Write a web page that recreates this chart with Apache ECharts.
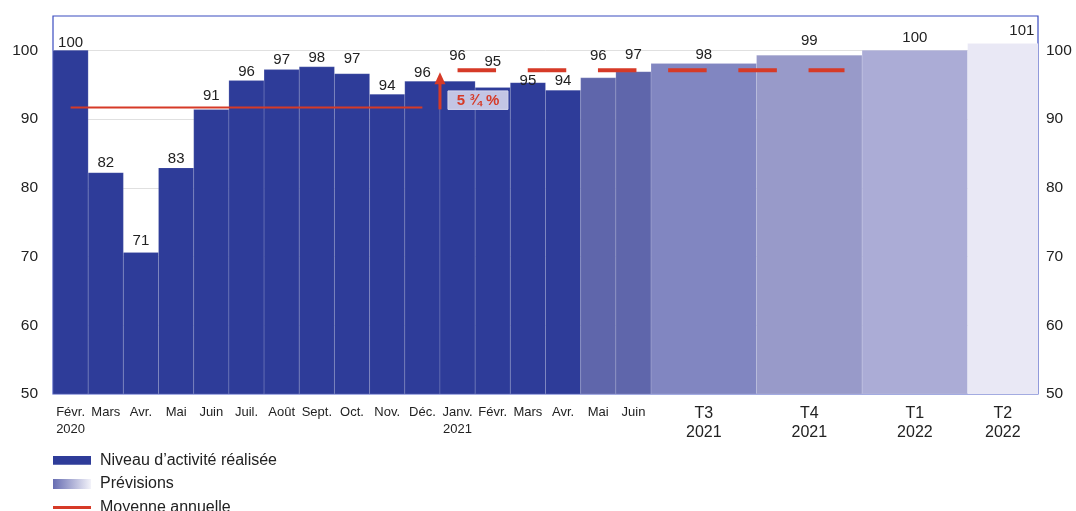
<!DOCTYPE html>
<html><head><meta charset="utf-8">
<script src="https://cdn.jsdelivr.net/npm/echarts@6/dist/echarts.min.js"></script>
<style>html,body{margin:0;padding:0;background:#fff}#c{width:1076px;height:511px}</style>
</head><body><div id="c"></div>
<script>
// ---- data ----
const periods = ['Févr.\n2020','Mars','Avr.','Mai','Juin','Juil.','Août','Sept.','Oct.','Nov.','Déc.','Janv.\n2021','Févr.','Mars','Avr.','Mai','Juin','T3\n2021','T4\n2021','T1\n2022','T2\n2022'];
const monthsPerPeriod = [1,1,1,1,1,1,1,1,1,1,1,1,1,1,1,1,1,3,3,3,2];
const activity = [100,82.2,70.6,82.9,91.4,95.6,97.2,97.6,96.6,93.6,95.5,95.5,94.6,95.3,94.2,96.0,96.9,98.1,99.3,100,101.0];
const realisedCount = 15;               // Févr. 2020 .. Avr. 2021 realised, then forecasts
const avg2020 = 91.7;                   // annual average 2020
const avg2021 = 97.1;                   // annual average 2021
const avg2020Months = [0, 10];          // Févr. 2020 .. Déc. 2020 (month index)
const avg2021Months = [11, 22];         // Janv. 2021 .. Déc. 2021 (month index)
const growthLabel = '5 ¾ %';
const growthPeriodIndex = 11;           // arrow at start of Janv. 2021
const yTicks = [50,60,70,80,90,100];
const legendNames = ['Niveau d’activité réalisée','Prévisions','Moyenne annuelle'];

// ---- styles ----
const FONT = '"Liberation Sans", Arial, Helvetica, sans-serif';
const realisedColor = '#2e3c99';
const forecastColors = ['#5f66ab','#5f66ab','#8186c1','#989ac9','#abacd6','#e9e8f5'];
const red = '#d63a27';
const labelDy = [-8,-10,-11.5,-9.5,-13.5,-8.5,-9.5,-9,-15,-8.5,-8,-25,-25.5,-1.5,-9,-21.5,-16.5,-9,-14,-13,-12.5];
const labelDx = [0,0,0,0,0,0,0,0,0,0,0,0,0,0,0,0,0,0,0,0,19];
const legendTops = [452.3, 475.9, 499.5];

// ---- derived ----
const starts = []; let acc = 0;
monthsPerPeriod.forEach(d => { starts.push(acc); acc += d; });
const totalMonths = acc;
const centers = starts.map((s, i) => s + monthsPerPeriod[i] / 2);
const yMin = yTicks[0];
const barData = activity.map((v, i) => [starts[i], starts[i] + monthsPerPeriod[i], v, i]);

function renderBar(params, api) {
  const s = api.value(0), e = api.value(1), v = api.value(2), i = api.value(3);
  const tl = api.coord([s, v]);
  const br = api.coord([e, yMin]);
  const color = i < realisedCount ? realisedColor : forecastColors[i - realisedCount];
  const cx = (tl[0] + br[0]) / 2;
  return { type: 'group', children: [
    { type: 'rect', shape: { x: tl[0], y: tl[1], width: br[0] - tl[0], height: br[1] - tl[1] },
      style: { fill: color, stroke: 'rgba(255,255,255,0.14)', lineWidth: 1 } },
    { type: 'text', x: cx + labelDx[i], y: tl[1] + labelDy[i],
      style: { text: String(Math.round(v)), fill: '#222', font: '15px ' + FONT, align: 'center', verticalAlign: 'middle' } }
  ]};
}

function renderArrow(params, api) {
  const x = api.value(0);
  const base = api.coord([x, api.value(1)]);
  const tip = api.coord([x, api.value(2)]);
  const ax = base[0], by = base[1] + 2, ty = tip[1] + 2;
  const headH = 12, headW = 11;
  const boxW = 60, boxH = 18.5;
  return { type: 'group', children: [
    { type: 'line', shape: { x1: ax, y1: by, x2: ax, y2: ty + headH - 1 }, style: { stroke: red, lineWidth: 3 } },
    { type: 'polygon', shape: { points: [[ax, ty], [ax - headW / 2, ty + headH], [ax + headW / 2, ty + headH]] }, style: { fill: red } },
    { type: 'rect', shape: { x: ax + 8, y: by - boxH, width: boxW, height: boxH }, style: { fill: '#c3c5e4', stroke: '#d6d7ee', lineWidth: 1 } },
    { type: 'text', x: ax + 8 + boxW / 2, y: by - boxH / 2 + 0.5,
      style: { text: growthLabel, fill: red, font: 'bold 15px ' + FONT, align: 'center', verticalAlign: 'middle' } }
  ]};
}

const richStyles = {
  m: { fontSize: 13, lineHeight: 17, color: '#222', fontFamily: FONT },
  q: { fontSize: 16, lineHeight: 19, color: '#222', fontFamily: FONT }
};

const legendGradient = new echarts.graphic.LinearGradient(0, 0, 1, 0, [
  { offset: 0, color: '#676db2' }, { offset: 0.9, color: '#f2f2f9' }, { offset: 1, color: '#ffffff' }
]);
const legendIcons = [
  { icon: 'path://M0,0 M42,10 M0,0.8 h38 v8.6 h-38 z', itemStyle: { color: realisedColor } },
  { icon: 'path://M0,0 M42,10 M0,0 h38 v10 h-38 z', itemStyle: { color: legendGradient } },
  { icon: 'path://M0,0 M42,10 M0,3.5 h38 v3 h-38 z', itemStyle: { color: red } }
];
const legends = legendNames.map((n, i) => ({
  orient: 'horizontal', left: 53, top: legendTops[i], padding: 0,
  itemWidth: 42, itemHeight: 10, selectedMode: false,
  textStyle: { fontSize: 16, color: '#222', lineHeight: 16, fontFamily: FONT },
  data: [Object.assign({ name: n }, legendIcons[i])]
}));

const chart = echarts.init(document.getElementById('c'), null, { renderer: 'canvas' });
chart.setOption({
  animation: false,
  backgroundColor: '#fff',
  textStyle: { fontFamily: FONT },
  grid: { left: 53, right: 38, top: 16, bottom: 117, show: true, borderColor: '#3b4cc0', borderWidth: 1.2 },
  xAxis: {
    type: 'value', min: 0, max: totalMonths,
    axisLine: { show: false }, axisTick: { show: false }, splitLine: { show: false },
    axisLabel: {
      customValues: centers, margin: 10, verticalAlign: 'top',
      formatter: function (v) {
        const i = centers.findIndex(c => Math.abs(c - v) < 1e-6);
        if (i < 0) return '';
        const st = monthsPerPeriod[i] > 1 ? 'q' : 'm';
        return periods[i].split('\n').map(s => '{' + st + '|' + s + '}').join('\n');
      },
      rich: richStyles
    }
  },
  yAxis: [
    { type: 'value', min: 50, max: 105, interval: 10, position: 'left',
      axisLine: { show: false }, axisTick: { show: false },
      splitLine: { showMinLine: false, showMaxLine: false, lineStyle: { color: '#e0e0e0', width: 1 } },
      axisLabel: { customValues: yTicks, margin: 15, fontSize: 15.5, color: '#222', fontFamily: FONT } },
    { type: 'value', min: 50, max: 105, interval: 10, position: 'right',
      axisLine: { show: false }, axisTick: { show: false }, splitLine: { show: false },
      axisLabel: { customValues: yTicks, margin: 8, fontSize: 15.5, color: '#222', fontFamily: FONT } }
  ],
  legend: legends,
  series: [
    { name: legendNames[0], type: 'custom', renderItem: renderBar, itemStyle: { color: realisedColor },
      data: barData.filter(d => d[3] < realisedCount), encode: { x: [0, 1], y: 2 }, z: 2 },
    { name: legendNames[1], type: 'custom', renderItem: renderBar, itemStyle: { color: forecastColors[2] },
      data: barData.filter(d => d[3] >= realisedCount), encode: { x: [0, 1], y: 2 }, z: 2 },
    { name: legendNames[2], type: 'line', symbol: 'none', z: 4, itemStyle: { color: red },
      lineStyle: { color: red, width: 2 },
      data: [[avg2020Months[0] + 0.5, avg2020], [avg2020Months[1] + 0.5, avg2020]] },
    { name: legendNames[2], type: 'line', symbol: 'none', z: 4, itemStyle: { color: red },
      lineStyle: { color: red, width: 4, type: [38.5, 31.7], cap: 'butt' },
      data: [[avg2021Months[0] + 0.5, avg2021], [avg2021Months[1] + 0.5, avg2021]] },
    { name: 'arrow', type: 'custom', renderItem: renderArrow, z: 5,
      data: [[starts[growthPeriodIndex], avg2020, avg2021]], encode: { x: 0, y: [1, 2] } }
  ]
});
</script></body></html>
